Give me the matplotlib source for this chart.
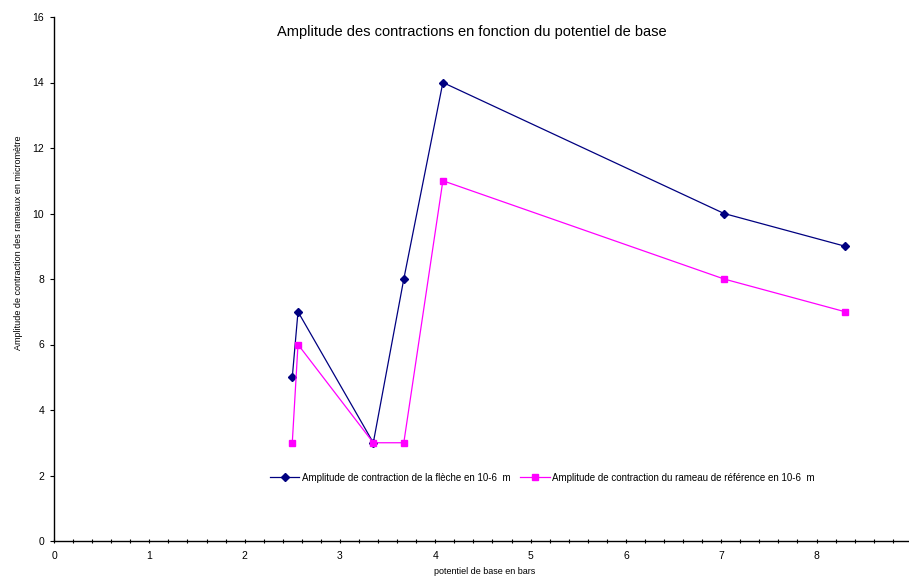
import matplotlib
matplotlib.use('Agg')
import matplotlib.pyplot as plt
from matplotlib.ticker import MultipleLocator

plt.rcParams['font.family'] = ['Liberation Sans', 'DejaVu Sans']

# potentiel de base (bars) et amplitudes (10-6 m)
potentiel = [2.50, 2.56, 3.35, 3.67, 4.08, 7.03, 8.30]
fleche = [5, 7, 3, 8, 14, 10, 9]
rameau_ref = [3, 6, 3, 3, 11, 8, 7]

fig = plt.figure(figsize=(9.09, 5.76), dpi=100)
ax = fig.add_axes([54 / 909, 35 / 576, (908 - 54) / 909, 524 / 576])

ax.plot(potentiel, fleche, color='#000080', lw=0.9, marker='D', ms=4.5,
        label='Amplitude de contraction de la flèche en 10-6  m')
ax.plot(potentiel, rameau_ref, color='#FF00FF', lw=0.9, marker='s', ms=5,
        label='Amplitude de contraction du rameau de référence en 10-6  m')

ax.set_xlim(0, 8.96)
ax.set_ylim(0, 16)
ax.xaxis.set_major_locator(MultipleLocator(1))
ax.xaxis.set_minor_locator(MultipleLocator(0.2))
ax.yaxis.set_major_locator(MultipleLocator(2))
ax.tick_params(axis='both', labelsize=7.5, length=3, width=0.8, direction='inout')
ax.tick_params(axis='x', which='minor', length=3, width=0.8, direction='inout')
ax.tick_params(axis='x', pad=6)
ax.tick_params(axis='y', pad=4, direction='out')

for s in ['top', 'right']:
    ax.spines[s].set_visible(False)
for s in ['left', 'bottom']:
    ax.spines[s].set_linewidth(1.0)

fig.text(472 / 909, 1 - 32 / 576,
         'Amplitude des contractions en fonction du potentiel de base',
         fontsize=10.5, ha='center', va='center')
fig.text(485 / 909, 1 - 571 / 576, 'potentiel de base en bars',
         fontsize=6.5, ha='center', va='center')
fig.text(19 / 909, 1 - 243 / 576,
         'Amplitude de contraction des rameaux en micromètre',
         fontsize=6.5, ha='center', va='center', rotation=90)

ax.legend(loc='center', bbox_to_anchor=(0.572, 0.121), ncol=2, frameon=False,
          fontsize=7, handlelength=3, columnspacing=1.0, handletextpad=0.3)

fig.savefig('out.png', dpi=100)
